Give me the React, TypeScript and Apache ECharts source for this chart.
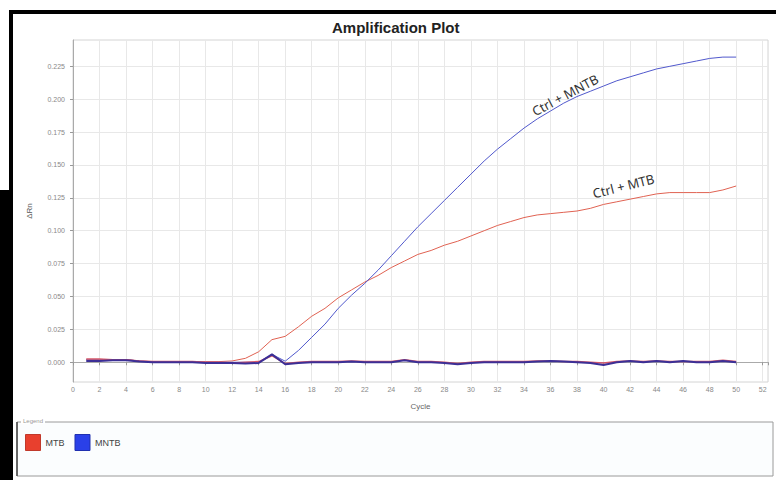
import React, { useEffect, useRef } from "react";
import * as echarts from "echarts";

const cycles = [1,2,3,4,5,6,7,8,9,10,11,12,13,14,15,16,17,18,19,20,21,22,23,24,25,26,27,28,29,30,31,32,33,34,35,36,37,38,39,40,41,42,43,44,45,46,47,48,49,50];

// Ctrl + MTB amplification (red)
const mtbAmp = [0.002,0.002,0.002,0.002,0.001,0.0005,0.0005,0.0005,0.0005,0.0005,0.0005,0.001,0.003,0.008,0.0172,0.0197,0.027,0.035,0.041,0.049,0.055,0.061,0.066,0.072,0.077,0.082,0.085,0.089,0.092,0.096,0.1,0.104,0.107,0.11,0.112,0.113,0.114,0.115,0.117,0.12,0.122,0.124,0.126,0.128,0.129,0.129,0.129,0.129,0.131,0.134];

// Ctrl + MNTB amplification (blue)
const mntbAmp = [0.002,0.002,0.002,0.002,0.001,0,0,0,0,0,0,0,0,0,0.006,0.0008,0.009,0.019,0.029,0.041,0.051,0.06,0.07,0.081,0.092,0.103,0.113,0.123,0.133,0.143,0.153,0.162,0.17,0.178,0.185,0.191,0.197,0.202,0.206,0.21,0.214,0.217,0.22,0.223,0.225,0.227,0.229,0.231,0.232,0.232];

// baseline (non-amplifying) wells
const mtbBase = [0.0025,0.0025,0.002,0.002,0.001,0.0005,0.0005,0.0005,0.0005,0,0,-0.0005,0,0.0005,0.005,-0.001,0,0.0005,0.0005,0.0005,0.001,0.0005,0.0005,0.0005,0.002,0.0005,0.0005,0,-0.001,0,0.0005,0.0005,0.0005,0.0005,0.001,0.001,0.0005,0.0005,0,-0.0005,0.0005,0.001,0.0005,0.001,0.0005,0.0005,0.0005,0.0005,0.0015,0.0005];
const mntbBase = [0.001,0.001,0.0015,0.0015,0.0005,0,0,0,0,-0.0005,-0.0005,-0.0005,-0.001,-0.0005,0.006,-0.0015,-0.0005,0,0,0,0.0005,0,0,0,0.0015,0,0,-0.0005,-0.0015,-0.0005,0,0,0,0,0.0005,0.001,0.0005,0,-0.0005,-0.002,0,0.001,0,0.001,0,0.001,0,0,0.001,0];

const yTicks = [0,0.025,0.05,0.075,0.1,0.125,0.15,0.175,0.2,0.225];

const annotations = [
  { series: "MNTB", label: "Ctrl + MNTB", cycle: 37.1, value: 0.2032, angle: 28 },
  { series: "MTB", label: "Ctrl + MTB", cycle: 41.5, value: 0.134, angle: 14 },
];

const zip = (ys: number[]) => cycles.map((c, i) => [c, ys[i]]);

export default function App() {
  const ref = useRef<HTMLDivElement>(null);
  useEffect(() => {
    if (!ref.current) return;
    const chart = echarts.init(ref.current, null, { renderer: "svg" });
    const font = "'Liberation Sans', Arial, sans-serif";
    const mk = (name: string) => {
      const a = annotations.filter((x) => x.series === name);
      return {
        symbol: "circle",
        symbolSize: 0,
        silent: true,
        data: a.map((x) => ({
          coord: [x.cycle, x.value],
          label: {
            show: true,
            formatter: x.label,
            rotate: x.angle,
            position: "inside",
            fontSize: 13,
            fontFamily: "'Noto Sans', sans-serif",
            color: "#333",
          },
        })),
      };
    };
    chart.setOption({
      animation: false,
      backgroundColor: "#ffffff",
      title: {
        text: "Amplification Plot",
        left: 327,
        top: 15,
        textStyle: { fontSize: 15, fontWeight: "bold", fontFamily: font, color: "#222" },
      },
      grid: {
        left: 73,
        top: 40,
        width: 695,
        height: 342,
        show: true,
        borderColor: "#d4d4d4",
        borderWidth: 1,
        backgroundColor: "transparent",
      },
      legend: {
        left: 20,
        top: 429,
        icon: "rect",
        itemWidth: 15,
        itemHeight: 16,
        itemGap: 10,
        selectedMode: false,
        textStyle: { fontSize: 9, color: "#444", fontFamily: font },
        data: [
          { name: "MTB", itemStyle: { color: "#e8402e", borderColor: "#c0392b", borderWidth: 1 } },
          { name: "MNTB", itemStyle: { color: "#2a40e8", borderColor: "#2030b0", borderWidth: 1 } },
        ],
      },
      xAxis: {
        type: "value",
        min: 0,
        max: 52.4,
        interval: 2,
        name: "Cycle",
        nameLocation: "middle",
        nameGap: 20,
        nameTextStyle: { fontSize: 8, color: "#666", fontFamily: font },
        axisLine: { show: true, lineStyle: { color: "#aaa" } },
        axisTick: { show: true, length: 3, lineStyle: { color: "#999" } },
        axisLabel: {
          fontSize: 7,
          color: "#888",
          margin: 4,
          fontFamily: font,
          formatter: (v: number) => (Number.isInteger(v) ? String(v) : ""),
        },
        splitLine: { show: true, lineStyle: { color: "#e8e8e8" } },
      },
      yAxis: {
        type: "value",
        min: -0.015,
        max: 0.245,
        name: "ΔRn",
        nameLocation: "middle",
        nameGap: 40,
        nameTextStyle: { fontSize: 8, color: "#555", fontFamily: font },
        axisLine: { show: true, lineStyle: { color: "#aaa" } },
        axisTick: { show: true, length: 3, customValues: yTicks, lineStyle: { color: "#999" } },
        axisLabel: {
          customValues: yTicks,
          fontSize: 7,
          color: "#888",
          margin: 8,
          fontFamily: font,
          formatter: (v: number) => v.toFixed(3),
        },
        splitLine: { show: true, lineStyle: { color: "#e8e8e8" } },
      },
      series: [
        {
          name: "MTB",
          type: "line",
          data: zip(mtbAmp),
          showSymbol: false,
          lineStyle: { color: "#e06252", width: 1 },
          itemStyle: { color: "#e8402e" },
          markPoint: mk("MTB"),
          z: 3,
        },
        {
          name: "MNTB",
          type: "line",
          data: zip(mntbAmp),
          showSymbol: false,
          lineStyle: { color: "#5058cc", width: 1 },
          itemStyle: { color: "#2a40e8" },
          markPoint: mk("MNTB"),
          z: 3,
        },
        {
          name: "MTB",
          type: "line",
          data: zip(mtbBase),
          showSymbol: false,
          lineStyle: { color: "#d65868", width: 1.5 },
          itemStyle: { color: "#e8402e" },
          z: 4,
        },
        {
          name: "MNTB",
          type: "line",
          data: zip(mntbBase),
          showSymbol: false,
          lineStyle: { color: "#3c2f96", width: 2 },
          itemStyle: { color: "#2a40e8" },
          z: 5,
        },
      ],
      graphic: [
        { type: "rect", shape: { x: 9, y: 10, width: 767, height: 4 }, style: { fill: "#000" }, silent: true },
        { type: "rect", shape: { x: 9, y: 10, width: 4, height: 470 }, style: { fill: "#000" }, silent: true },
        { type: "rect", shape: { x: 0, y: 190, width: 13, height: 290 }, style: { fill: "#000" }, silent: true },
        {
          type: "rect",
          shape: { x: 17, y: 422, width: 756, height: 54 },
          style: { fill: "#fbfdfe", stroke: "#9a9a9a", lineWidth: 1 },
          silent: true,
          z: -1,
        },
        { type: "line", shape: { x1: 17, y1: 422, x2: 17, y2: 476 }, style: { stroke: "#444", lineWidth: 1.5 }, silent: true },
        {
          type: "text",
          x: 21,
          y: 418,
          style: {
            text: "Legend",
            fontSize: 6,
            fill: "#999",
            fontFamily: font,
            backgroundColor: "#ffffff",
            padding: [0, 2],
          },
          silent: true,
        },
      ],
    });
    return () => chart.dispose();
  }, []);
  return (
    <div
      ref={ref}
      style={{ position: "fixed", left: 0, top: 0, width: 776, height: 480, background: "#fff" }}
    />
  );
}
